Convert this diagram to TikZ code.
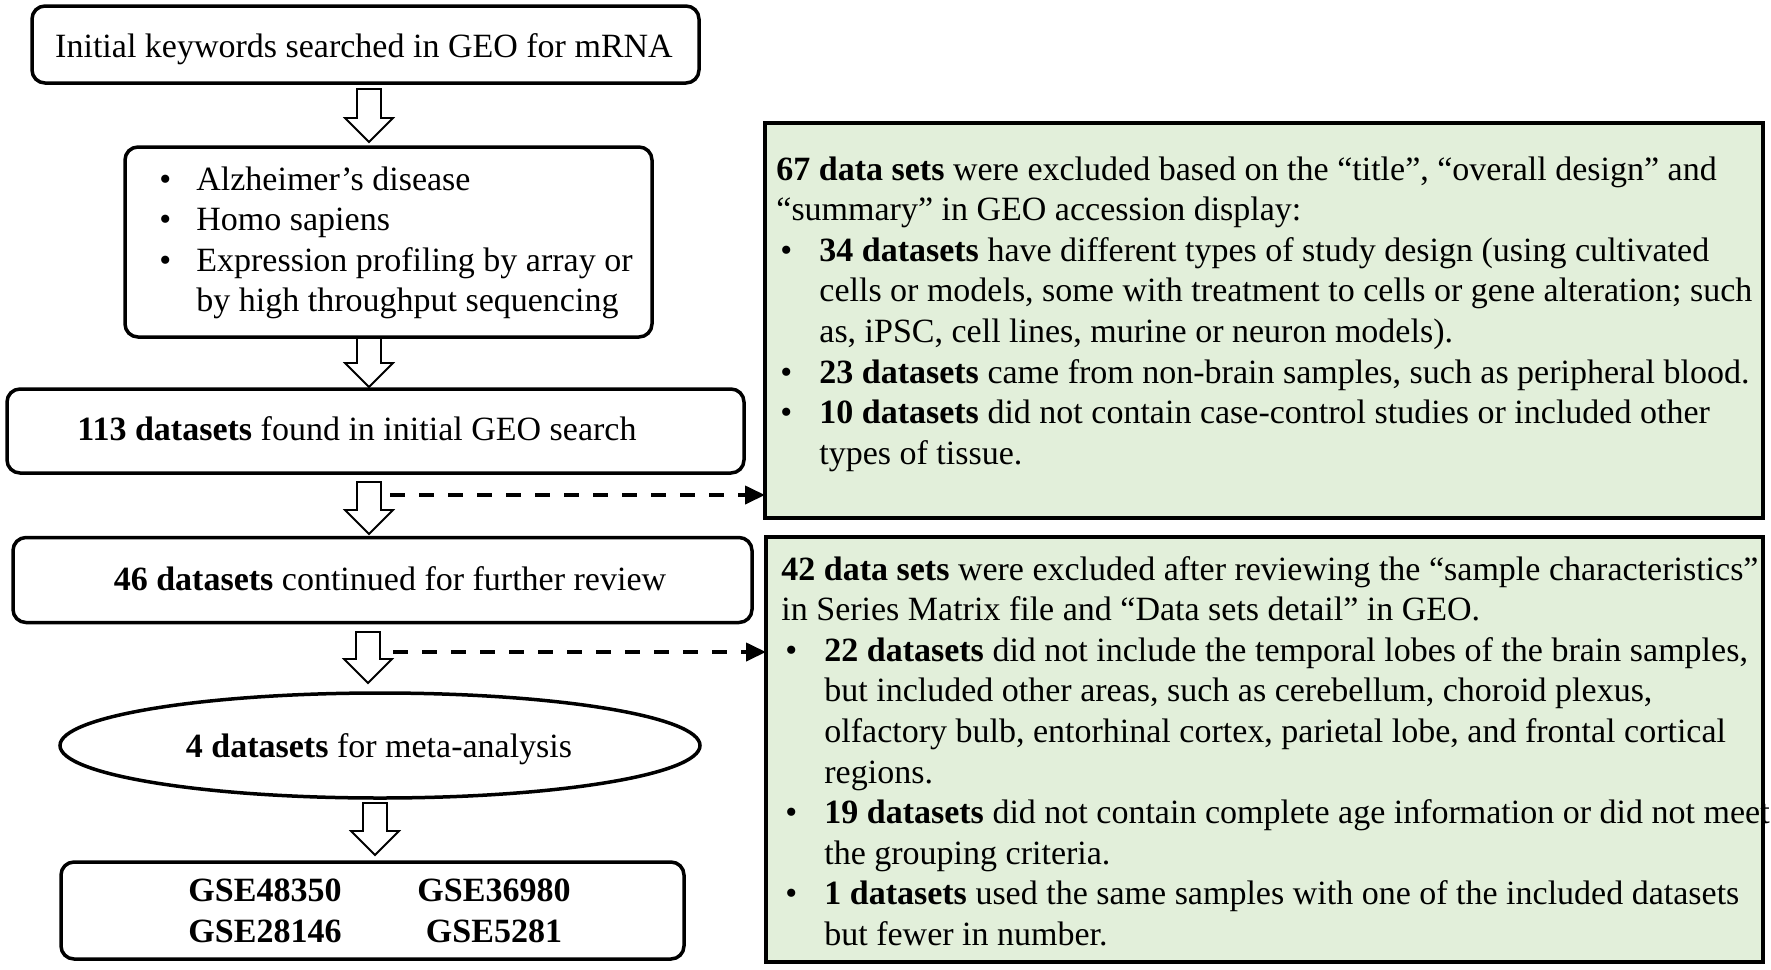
\documentclass[tikz,border=0pt]{standalone}
\usepackage{fontspec}
\setmainfont{Liberation Serif}
\usetikzlibrary{shapes.geometric,arrows.meta}
\newdimen\px \px=0.5pt
\definecolor{exfill}{HTML}{E2EFDA}
\newcommand{\bitem}{\hspace*{4\px}\makebox[39\px][l]{\textbullet}}
\newcommand{\bcont}{\hspace*{43\px}}
\newcommand{\litem}{\makebox[37\px][l]{\textbullet}}
\newcommand{\lcont}{\hspace*{37\px}}
\newcommand{\blockarrow}[3]{%
  \draw[blk] (#1-12,#2) -- (#1+12,#2) -- (#1+12,#3-24) -- (#1+24,#3-24)
    -- (#1,#3) -- (#1-24,#3-24) -- (#1-12,#3-24) -- cycle;}
\tikzset{
  txt/.style={font=\fontsize{17pt}{20.3pt}\selectfont, inner sep=0pt},
  gse/.style={font=\fontsize{17pt}{20.3pt}\selectfont\bfseries, inner sep=0pt, anchor=base},
  rbox/.style={draw, line width=1.75pt, rounded corners=6.5pt, inner sep=0pt},
  exbox/.style={draw, line width=2pt, fill=exfill, inner sep=0pt, outer sep=0pt},
  blk/.style={draw, line width=0.9pt, fill=white},
  dasharr/.style={line width=2pt, dash pattern=on 7.5pt off 7pt,
    -{Triangle[length=10pt,width=9pt]}},
}
\begin{document}
\begin{tikzpicture}[x=0.5pt,y=-0.5pt]
\useasboundingbox (0,0) rectangle (1771,969);
% left column boxes
\node[rbox, minimum width=667\px, minimum height=77\px] (b1) at (365.5,44.5) {};
\node[txt, anchor=base] (t1) at (364,57) {Initial keywords searched in GEO for mRNA};
\node[rbox, minimum width=527\px, minimum height=190\px] (b2) at (388.5,242) {};
\node[txt, anchor=base west] (t2) at (159,190) {\parbox[t]{300pt}{\raggedright
\litem Alzheimer’s disease\\
\litem Homo sapiens\\
\litem Expression profiling by array or\\
\lcont by high throughput sequencing}};
\node[rbox, minimum width=737\px, minimum height=84\px] (b3) at (375.5,431) {};
\node[txt, anchor=base] (t3) at (357,440) {\textbf{113 datasets} found in initial GEO search};
\node[rbox, minimum width=739\px, minimum height=85\px] (b4) at (382.5,580) {};
\node[txt, anchor=base] (t4) at (390,590) {\textbf{46 datasets} continued for further review};
\node[ellipse, draw, line width=1.75pt, inner sep=0pt, minimum width=640\px, minimum height=105\px] (el) at (380,745.5) {};
\node[txt, anchor=base] (tel) at (379,757) {\textbf{4 datasets} for meta-analysis};
\node[rbox, minimum width=623\px, minimum height=97\px] (b5) at (372.5,910.5) {};
\node[gse] (g1) at (265,901) {GSE48350};
\node[gse] (g2) at (494,901) {GSE36980};
\node[gse] (g3) at (265,942) {GSE28146};
\node[gse] (g4) at (494,942) {GSE5281};
% block arrows
\blockarrow{369}{89}{142}
\blockarrow{369}{338}{387}
\blockarrow{369}{482}{534}
\blockarrow{368}{632}{683}
\blockarrow{375}{803}{855}
% exclusion boxes
\node[exbox, minimum width=998\px, minimum height=395\px] (ex1) at (1264,320.5) {};
\node[txt, anchor=base west] (ex1t) at (776,180) {\parbox[t]{560pt}{\raggedright
\textbf{67 data sets} were excluded based on the “title”, “overall design” and\\
“summary” in GEO accession display:\\
\bitem\textbf{34 datasets} have different types of study design (using cultivated\\
\bcont cells or models, some with treatment to cells or gene alteration; such\\
\bcont as, iPSC, cell lines, murine or neuron models).\\
\bitem\textbf{23 datasets} came from non-brain samples, such as peripheral blood.\\
\bitem\textbf{10 datasets} did not contain case-control studies or included other\\
\bcont types of tissue.}};
\node[exbox, minimum width=997\px, minimum height=425\px] (ex2) at (1264.5,749.5) {};
\node[txt, anchor=base west] (ex2t) at (781,580) {\parbox[t]{560pt}{\raggedright
\textbf{42 data sets} were excluded after reviewing the “sample characteristics”\\
in Series Matrix file and “Data sets detail” in GEO.\\
\bitem\textbf{22 datasets} did not include the temporal lobes of the brain samples,\\
\bcont but included other areas, such as cerebellum, choroid plexus,\\
\bcont olfactory bulb, entorhinal cortex, parietal lobe, and frontal cortical\\
\bcont regions.\\
\bitem\textbf{19 datasets} did not contain complete age information or did not meet\\
\bcont the grouping criteria.\\
\bitem\textbf{1 datasets} used the same samples with one of the included datasets\\
\bcont but fewer in number.}};
\draw[line width=2pt] (ex2.north west) rectangle (ex2.south east);
% dashed connectors
\coordinate (d1) at (390,495);
\coordinate (d2) at (393,652);
\draw[dasharr] (d1) -- (d1 -| ex1.west);
\draw[dasharr] (d2) -- (d2 -| ex2.west);
\end{tikzpicture}
\end{document}
